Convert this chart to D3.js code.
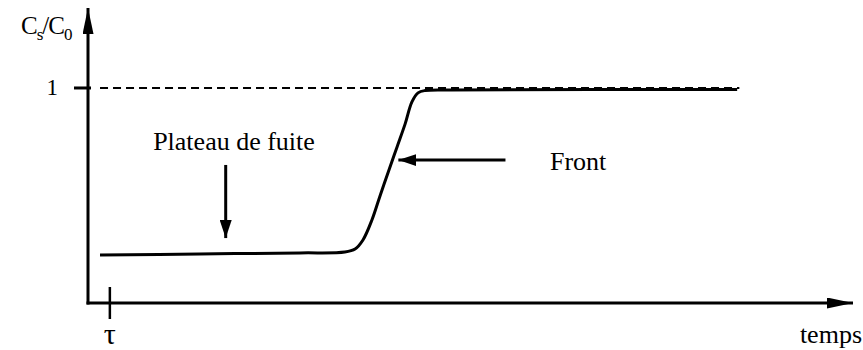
<!DOCTYPE html>
<html>
<head>
<meta charset="utf-8">
<script src="https://cdn.jsdelivr.net/npm/d3@7"></script>
<style>
  body { margin: 0; background: #fff; }
  svg text { font-family: "Liberation Serif", "Times New Roman", serif; fill: #000; }
</style>
</head>
<body>
<svg id="chart"></svg>
<script>
// breakthrough curve, time in arbitrary units, ratio Cs/C0
var times  = [0.55, 5.1, 9.7, 11.75, 12.22, 12.58, 12.99, 13.36, 13.77, 14.14, 14.51, 14.82, 15.1, 15.42, 16.6, 29.7];
var ratios = [0.223, 0.228, 0.233, 0.237, 0.251, 0.293, 0.386, 0.498, 0.619, 0.726, 0.833, 0.935, 0.977, 0.988, 0.991, 0.993];

var tauValue = 1;
var levelValue = 1;
var levelStart = 0.55;
var levelEnd = 29.8;

var xMax = 35;
var yMax = 1.372;

// annotations: [x1, y1, x2, y2] in data units, arrow at the second point
var frontArrow = [19.1, 0.665, 14.2, 0.665];
var plateauArrow = [6.3, 0.642, 6.3, 0.302];

var width = 863;
var height = 350;
var margin = {top: 8, left: 88, right: 10, bottom: 47};

var svg = d3.select("#chart")
    .attr("width", width)
    .attr("height", height);

var x = d3.scaleLinear()
    .domain([0, xMax])
    .range([margin.left, width - margin.right]);

var y = d3.scaleLinear()
    .domain([0, yMax])
    .range([height - margin.bottom, margin.top]);

var defs = svg.append("defs");

function addHead(id, len, wid) {
    defs.append("marker")
        .attr("id", id)
        .attr("markerUnits", "userSpaceOnUse")
        .attr("viewBox", `0 ${-wid / 2} ${len} ${wid}`)
        .attr("refX", len)
        .attr("refY", 0)
        .attr("markerWidth", len)
        .attr("markerHeight", wid)
        .attr("orient", "auto")
        .append("path")
        .attr("d", `M0,${-wid / 2}L${len},0L0,${wid / 2}Z`)
        .attr("fill", "#000");
}
addHead("axisHead", 26, 11);
addHead("noteHead", 18, 12);

// axes
svg.append("line")
    .attr("x1", x(0)).attr("y1", y(0) + 1.5)
    .attr("x2", x(0)).attr("y2", y(yMax))
    .attr("stroke", "#000").attr("stroke-width", 3)
    .attr("marker-end", "url(#axisHead)");

svg.append("line")
    .attr("x1", x(0) - 1.5).attr("y1", y(0))
    .attr("x2", x(xMax)).attr("y2", y(0))
    .attr("stroke", "#000").attr("stroke-width", 3)
    .attr("marker-end", "url(#axisHead)");

// tick at 1 and tau
svg.append("line")
    .attr("x1", x(0) - 14).attr("y1", y(levelValue))
    .attr("x2", x(0) + 3).attr("y2", y(levelValue))
    .attr("stroke", "#000").attr("stroke-width", 3);

svg.append("line")
    .attr("x1", x(tauValue)).attr("y1", y(0) - 16)
    .attr("x2", x(tauValue)).attr("y2", y(0) + 16)
    .attr("stroke", "#000").attr("stroke-width", 2.5);

// dashed level
svg.append("line")
    .attr("x1", x(levelStart)).attr("y1", y(levelValue))
    .attr("x2", x(levelEnd)).attr("y2", y(levelValue))
    .attr("stroke", "#000").attr("stroke-width", 2)
    .attr("stroke-dasharray", "8,5");

// curve
var line = d3.line()
    .x(function(d, i) { return x(times[i]); })
    .y(function(d) { return y(d); })
    .curve(d3.curveCatmullRom.alpha(0.5));

svg.append("path")
    .attr("d", line(ratios))
    .attr("fill", "none")
    .attr("stroke", "#000")
    .attr("stroke-width", 3);

// annotation arrows
[frontArrow, plateauArrow].forEach(function(a) {
    svg.append("line")
        .attr("x1", x(a[0])).attr("y1", y(a[1]))
        .attr("x2", x(a[2])).attr("y2", y(a[3]))
        .attr("stroke", "#000").attr("stroke-width", 3)
        .attr("marker-end", "url(#noteHead)");
});

// texts
svg.append("text")
    .attr("x", 234).attr("y", 150)
    .attr("text-anchor", "middle")
    .attr("font-size", 26)
    .text("Plateau de fuite");

svg.append("text")
    .attr("x", 550).attr("y", 170)
    .attr("font-size", 26)
    .text("Front");

svg.append("text")
    .attr("x", 862).attr("y", 343)
    .attr("text-anchor", "end")
    .attr("font-size", 26)
    .text("temps");

svg.append("text")
    .attr("x", x(tauValue)).attr("y", 344)
    .attr("text-anchor", "middle")
    .attr("font-size", 30)
    .text("τ");

svg.append("text")
    .attr("x", 58).attr("y", 95)
    .attr("text-anchor", "end")
    .attr("font-size", 23)
    .text("1");

var yl = svg.append("text")
    .attr("x", 21).attr("y", 34)
    .attr("font-size", 25)
    .attr("letter-spacing", -1);
yl.append("tspan").text("C");
yl.append("tspan").attr("font-size", 17).attr("dy", 6).text("s");
yl.append("tspan").attr("dy", -6).text("/C");
yl.append("tspan").attr("font-size", 17).attr("dy", 6).text("0");
</script>
</body>
</html>
